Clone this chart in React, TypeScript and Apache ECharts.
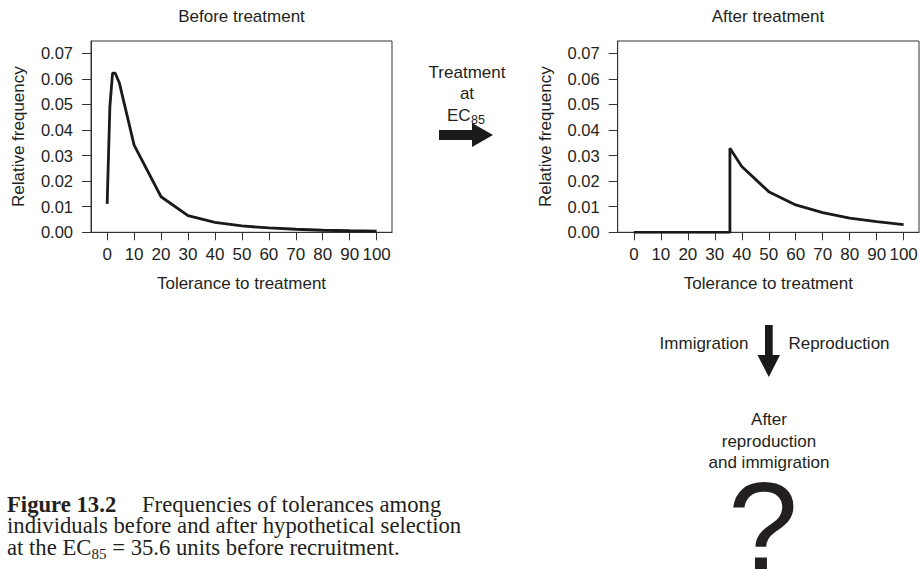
import React, { useEffect, useRef } from "react";
import * as echarts from "echarts";

// Tick values
const xTicks = [0, 10, 20, 30, 40, 50, 60, 70, 80, 90, 100];
const yTicks = [0, 0.01, 0.02, 0.03, 0.04, 0.05, 0.06, 0.07];

// Before treatment
const beforeTolerance = [0, 1, 2, 3, 4.5, 10, 20, 30, 40, 50, 60, 70, 80, 90, 100];
const beforeFreq = [0.0111, 0.049, 0.0622, 0.0622, 0.0585, 0.0341, 0.0139, 0.0065, 0.0039, 0.0025, 0.0017, 0.0012, 0.0008, 0.0006, 0.00045];

// After treatment (selection at EC85 = 35.6)
const afterTolerance = [0, 35.6, 35.6, 40, 50, 60, 70, 80, 90, 100];
const afterFreq = [0, 0, 0.0329, 0.0257, 0.0159, 0.0107, 0.0077, 0.0055, 0.0042, 0.003];

const FONT = "'Liberation Sans', Arial, Helvetica, sans-serif";
const SERIF = "'Liberation Serif', 'Times New Roman', serif";
const INK = "#231f20";
const LINE = "#1a1a1a";

function axisPair(gridIndex: number) {
  const xAxis = {
    type: "value",
    gridIndex,
    min: -6,
    max: 105.7,
    name: "Tolerance to treatment",
    nameLocation: "middle",
    nameGap: 43,
    nameTextStyle: { fontFamily: FONT, fontSize: 17, color: INK },
    axisLine: { show: true, onZero: false, lineStyle: { color: "#333", width: 1 } },
    splitLine: { show: false },
    axisTick: { show: true, inside: false, length: 8, customValues: xTicks, lineStyle: { color: "#333", width: 1 } },
    axisLabel: { customValues: xTicks, margin: 14, fontFamily: FONT, fontSize: 17, color: INK },
  };
  const yAxis = {
    type: "value",
    gridIndex,
    min: 0,
    max: 0.0748,
    name: "Relative frequency",
    nameLocation: "middle",
    nameGap: 64,
    nameTextStyle: { fontFamily: FONT, fontSize: 17, color: INK },
    axisLine: { show: true, onZero: false, lineStyle: { color: "#333", width: 1 } },
    splitLine: { show: false },
    axisTick: { show: true, inside: false, length: 9, customValues: yTicks, lineStyle: { color: "#333", width: 1 } },
    axisLabel: {
      customValues: yTicks,
      margin: 18,
      fontFamily: FONT,
      fontSize: 16.5,
      color: INK,
      formatter: (v: number) => v.toFixed(2),
    },
  };
  return { xAxis, yAxis };
}

const textEl = (text: string, x: number, y: number, opts: any = {}) => ({
  type: "text",
  x,
  y,
  style: {
    text,
    fill: INK,
    fontFamily: FONT,
    fontSize: 17,
    align: "center",
    verticalAlign: "middle",
    ...opts,
  },
});

export default function App() {
  const ref = useRef<HTMLDivElement>(null);
  useEffect(() => {
    const chart = echarts.init(ref.current!, null, { renderer: "svg" });
    const a = axisPair(0);
    const b = axisPair(1);
    const option: any = {
      animation: false,
      backgroundColor: "#ffffff",
      title: [
        {
          text: "Before treatment",
          left: 241.5,
          top: 8,
          textAlign: "center",
          padding: 0,
          textStyle: { fontFamily: FONT, fontSize: 17, fontWeight: "normal", color: INK },
        },
        {
          text: "After treatment",
          left: 768,
          top: 8,
          textAlign: "center",
          padding: 0,
          textStyle: { fontFamily: FONT, fontSize: 17, fontWeight: "normal", color: INK },
        },
      ],
      grid: [
        { left: 91, top: 41, width: 301, height: 191.3, show: true, borderColor: "#333", borderWidth: 1, backgroundColor: "transparent", containLabel: false, outerBoundsMode: "none" },
        { left: 617.7, top: 41, width: 301.3, height: 191.3, show: true, borderColor: "#333", borderWidth: 1, backgroundColor: "transparent", containLabel: false, outerBoundsMode: "none" },
      ],
      xAxis: [a.xAxis, b.xAxis],
      yAxis: [a.yAxis, b.yAxis],
      series: [
        {
          name: "Before treatment",
          type: "line",
          xAxisIndex: 0,
          yAxisIndex: 0,
          showSymbol: false,
          data: beforeTolerance.map((t, i) => [t, beforeFreq[i]]),
          lineStyle: { color: LINE, width: 2.8 },
        },
        {
          name: "After treatment",
          type: "line",
          xAxisIndex: 1,
          yAxisIndex: 1,
          showSymbol: false,
          data: afterTolerance.map((t, i) => [t, afterFreq[i]]),
          lineStyle: { color: LINE, width: 2.8 },
        },
      ],
      graphic: [
        textEl("Treatment", 467, 72),
        textEl("at", 467, 93),
        textEl("EC", 447, 115, { align: "left" }),
        textEl("85", 471, 120, { align: "left", fontSize: 12.5 }),
        {
          type: "polygon",
          shape: { points: [[439, 130], [472, 130], [472, 123], [493, 135], [472, 147], [472, 140], [439, 140]] },
          style: { fill: LINE },
        },
        textEl("Immigration", 704, 343),
        textEl("Reproduction", 839, 343),
        {
          type: "polygon",
          shape: { points: [[765, 325], [772.7, 325], [772.7, 355], [780, 355], [768.8, 377], [757.5, 355], [765, 355]] },
          style: { fill: LINE },
        },
        textEl("After", 769, 419),
        textEl("reproduction", 769, 441),
        textEl("and immigration", 769, 462),
        textEl("?", 763, 526, { fontSize: 126, lineHeight: 100 }),
        textEl("Figure 13.2", 7, 504, { align: "left", fontFamily: SERIF, fontSize: 22.7, fontWeight: "bold" }),
        textEl("Frequencies of tolerances among", 142, 504, { align: "left", fontFamily: SERIF, fontSize: 22.7 }),
        textEl("individuals before and after hypothetical selection", 7, 525.5, { align: "left", fontFamily: SERIF, fontSize: 22.7 }),
        textEl("at the EC", 7, 547, { align: "left", fontFamily: SERIF, fontSize: 22.7 }),
        textEl("85", 91.5, 553.5, { align: "left", fontFamily: SERIF, fontSize: 15 }),
        textEl(" = 35.6 units before recruitment.", 106.5, 547, { align: "left", fontFamily: SERIF, fontSize: 22.7 }),
      ],
    };
    chart.setOption(option);
    return () => chart.dispose();
  }, []);
  return <div ref={ref} style={{ position: "absolute", left: 0, top: 0, width: 920, height: 569 }} />;
}
